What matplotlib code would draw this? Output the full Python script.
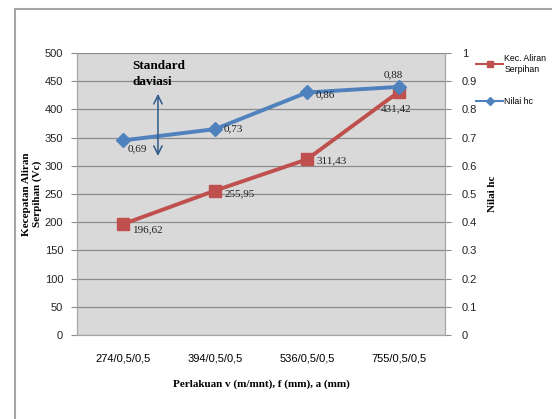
import numpy as np
import matplotlib
matplotlib.use('Agg')
from matplotlib import pyplot as plt
from matplotlib.lines import Line2D
from matplotlib.ticker import FuncFormatter

perlakuan = ['274/0,5/0,5', '394/0,5/0,5', '536/0,5/0,5', '755/0,5/0,5']
kec_aliran = [196.62, 255.95, 311.43, 431.42]
nilai_hc = [0.69, 0.73, 0.86, 0.88]

red = '#C0504D'
blue = '#4F81BD'
grid_col = '#8C8C8C'
sans = ['Liberation Sans', 'DejaVu Sans']
serif = ['Liberation Serif', 'DejaVu Serif']

def koma(v, dec=2):
	return ('{:.%df}' % dec).format(v).replace('.', ',')

fig = plt.figure(figsize=(5.52, 4.19), dpi=100)
ax = fig.add_axes([77/552, 1-335/419, 368/552, 282/419])
ax2 = ax.twinx()

x = np.arange(len(perlakuan))

ax.set_xlim(-0.5, 3.5)
ax.set_ylim(0, 500)
ax.set_yticks(np.arange(0, 501, 50))
ax2.set_ylim(0, 1)
ax2.set_yticks(np.arange(0, 1.01, 0.1))
ax2.yaxis.set_major_formatter(FuncFormatter(lambda v, p: '{:g}'.format(round(v, 1))))
ax.yaxis.grid(True, color=grid_col, linewidth=0.9)
ax.set_axisbelow(True)

ax.set_xticks(x)
ax.set_xticklabels(perlakuan)
ax.tick_params(axis='x', length=0, pad=13)
for a in (ax, ax2):
	a.tick_params(axis='y', length=4, width=0.8, color=grid_col, labelsize=8, labelcolor='#222222')
	for s in a.spines.values():
		s.set_color('#A6A6A6')
	a.spines['top'].set_visible(False)
for lab in ax.get_xticklabels() + ax.get_yticklabels() + ax2.get_yticklabels():
	lab.set_family(sans)
	lab.set_fontsize(8)
ax.tick_params(axis='y', pad=6)
ax2.tick_params(axis='y', pad=8)

# series
l_red, = ax.plot(x, kec_aliran, color=red, lw=2.8, marker='s', ms=8, zorder=3)
l_blue, = ax2.plot(x, nilai_hc, color=blue, lw=2.8, marker='D', ms=7, zorder=3)
ax2.set_zorder(ax.get_zorder() + 1)
ax2.patch.set_visible(False)
ax.patch.set_facecolor('#D9D9D9')

# data labels
red_off = [(7, -4, 'left'), (7, -2, 'left'), (7, -1, 'left'), (-2, -12, 'center')]
for xi, v, (dx, dy, ha) in zip(x, kec_aliran, red_off):
	ax.annotate(koma(v), (xi, v), xytext=(dx, dy), textcoords='offset points',
		ha=ha, va='center', fontsize=8, family=serif, color='#222222', zorder=5)
blue_off = [(3, -6, 'left'), (6, 0, 'left'), (6, -2, 'left'), (-4, 9, 'center')]
for xi, v, (dx, dy, ha) in zip(x, nilai_hc, blue_off):
	ax2.annotate(koma(v), (xi, v), xytext=(dx, dy), textcoords='offset points',
		ha=ha, va='center', fontsize=8, family=serif, color='#222222', zorder=5)

# standard deviasi arrow
ax2.annotate('', xy=(0.38, 0.855), xytext=(0.38, 0.635),
	arrowprops=dict(arrowstyle='<->,head_length=0.6,head_width=0.3', color='#2E5A8A', lw=1.1,
		mutation_scale=10, shrinkA=0, shrinkB=0), zorder=6)
ax2.text(0.1, 0.975, 'Standard\ndaviasi', fontsize=9.5, fontweight='bold', family=serif,
	va='top', ha='left', linespacing=1.4, zorder=6)

# axis titles
ax.set_ylabel('Kecepatan Aliran\nSerpihan (Vc)', family=serif, fontsize=8, fontweight='bold', labelpad=2)
ax2.set_ylabel('Nilai hc', family=serif, fontsize=8, fontweight='bold', labelpad=8)
ax.set_xlabel('Perlakuan v (m/mnt), f (mm), a (mm)', family=serif, fontsize=8, fontweight='bold', labelpad=12)

# legend
leg = fig.legend([l_red, l_blue], ['Kec. Aliran\nSerpihan', 'Nilai hc'],
	loc='upper left', bbox_to_anchor=(0.852, 0.885), frameon=False,
	prop={'family': sans, 'size': 6.3}, handlelength=3, handletextpad=0.2,
	labelspacing=2.7, markerscale=0.6, borderaxespad=0.3)
for h in leg.legend_handles:
	h.set_linewidth(1.5)

# outer frame
fig.add_artist(Line2D([15/552, 15/552], [0, 1-9/419], color='#A6A6A6', lw=1.5))
fig.add_artist(Line2D([15/552, 1], [1-9/419, 1-9/419], color='#A6A6A6', lw=1.5))

fig.savefig('out.png', dpi=100)
